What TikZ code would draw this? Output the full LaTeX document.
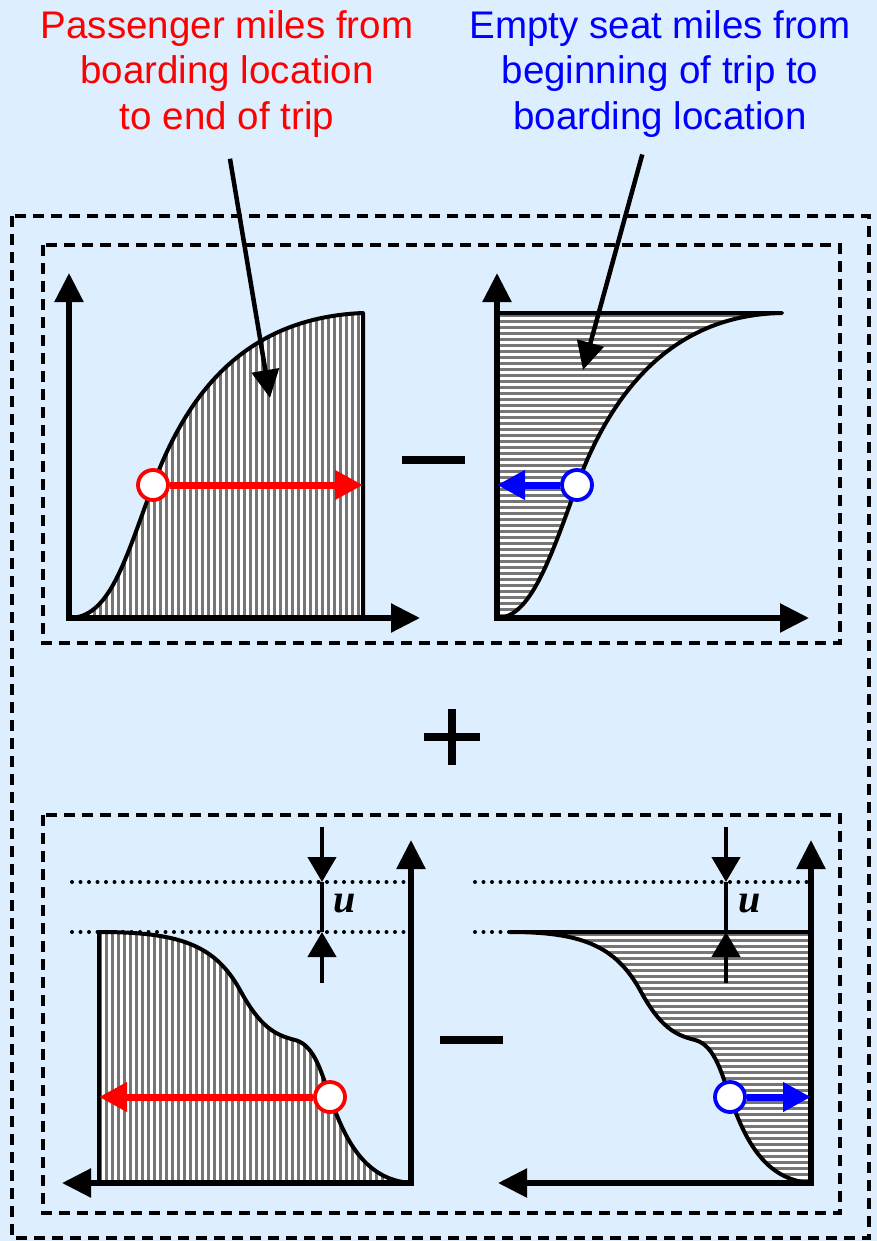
\documentclass[tikz,border=0pt]{standalone}
\usepackage{fontspec}
\setmainfont{Liberation Sans}
\newfontfamily\uvar{Liberation Serif}
\usetikzlibrary{calc,arrows.meta}
\definecolor{pagebg}{RGB}{221,238,255}
\definecolor{stripegray}{RGB}{118,118,118}
\newcommand{\risingL}{(o1) .. controls (110,618) and (125,560) .. (153,485) .. controls (185,400) and (240,318) .. (top1)}
\newcommand{\risingR}{(o2) .. controls (530,618) and (550,560) .. (577,485) .. controls (605,410) and (660,315) .. (end2)}
\newcommand{\fallingL}{(lft3) .. controls (180,932) and (215,945) .. (240,990) .. controls (260,1027) and (275,1035) .. (295,1040) .. controls (315,1045) and (322,1075) .. (330,1097) .. controls (345,1140) and (365,1180) .. (o3)}
\newcommand{\fallingR}{(lft4) .. controls (580,932) and (615,945) .. (640,990) .. controls (660,1027) and (675,1035) .. (695,1040) .. controls (715,1045) and (722,1075) .. (730,1097) .. controls (745,1140) and (765,1180) .. (o4)}
\tikzset{
  lbl/.style={align=center,font=\fontsize{38.5}{45.5}\selectfont},
  axis/.style={{Triangle[length=29pt,width=28pt]}-{Triangle[length=29pt,width=28pt]},line width=5.5pt},
  ptr/.style={-{Triangle[length=28pt,width=27pt]},line width=4.5pt},
  curv/.style={line width=4pt,line join=round}
}

\begin{document}
\begin{tikzpicture}[x=1pt,y=-1pt,
  dbox/.style={dash pattern=on 11pt off 7pt,line width=3.3pt},
  dotl/.style={line width=4pt,dash pattern=on 0pt off 8.5pt,line cap=round},
  vstripe/.style={stripegray,line width=3pt},
  rdot/.style={circle,draw=red,fill=white,line width=3.8pt,minimum size=30pt,inner sep=0pt},
  bdot/.style={rdot,draw=blue},
  rarr/.style={-{Triangle[length=28pt,width=28pt]},line width=7pt,red},
  barr/.style={rarr,blue},
  uarr/.style={-{Triangle[length=25pt,width=28pt]},line width=4.5pt},
  uvar/.style={font=\uvar\bfseries\itshape\fontsize{40}{40}\selectfont},
  sign/.style={line width=8pt}]
  \useasboundingbox (0,0) rectangle (877,1241);
  \fill[pagebg] (0,0) rectangle (877,1241);

  % labels
  \node[lbl,text=red] (pass) at (227,74) {Passenger miles from\\boarding location\\to end of trip};
  \node[lbl,text=blue] (empty) at (660,74) {Empty seat miles from\\beginning of trip to\\boarding location};

  % frames
  \draw[dbox] (12,216) rectangle (869,1238);
  \draw[dbox] (43,245) rectangle (840,643);
  \draw[dbox] (43,815) rectangle (840,1213);

  \coordinate (o1) at (69,618);  \coordinate (y1) at (69,273);  \coordinate (x1) at (420,618);  \coordinate (top1) at (363,313);
  \coordinate (o2) at (497,618); \coordinate (y2) at (497,273); \coordinate (x2) at (809,618);  \coordinate (end2) at (782,313);
  \coordinate (o3) at (411,1183); \coordinate (y3) at (411,840); \coordinate (x3) at (62,1183); \coordinate (lft3) at (99,932);
  \coordinate (o4) at (811,1183); \coordinate (y4) at (811,840); \coordinate (x4) at (498,1183); \coordinate (lft4) at (510,932);

  % hatched areas
  \begin{scope}
    \clip \risingL |- (o1);
    \fill[white] (60,300) rectangle (370,620);
    \foreach \x in {70,76,...,364} \draw[vstripe] (\x,300) -- (\x,620);
  \end{scope}
  \begin{scope}
    \clip \risingR -- (o2 |- end2) -- cycle;
    \fill[white] (490,305) rectangle (790,620);
    \foreach \y in {315,321,...,620} \draw[vstripe] (490,\y) -- (790,\y);
  \end{scope}
  \begin{scope}
    \clip \fallingL -- (lft3 |- o3) -- cycle;
    \fill[white] (95,925) rectangle (415,1190);
    \foreach \x in {100,106,...,412} \draw[vstripe] (\x,925) -- (\x,1190);
  \end{scope}
  \begin{scope}
    \clip \fallingR -- (o4 |- lft4) -- cycle;
    \fill[white] (505,925) rectangle (815,1190);
    \foreach \y in {934,940,...,1186} \draw[vstripe] (505,\y) -- (815,\y);
  \end{scope}

  \draw[curv] \risingL -- (top1 |- o1);
  \draw[curv] \risingR -- (o2 |- end2);
  \draw[curv] (lft3 |- o3) -- \fallingL;
  \draw[curv] \fallingR -- (o4 |- lft4) -- (lft4);

  % levels and offset u
  \draw[dotl] (72,882) -- (411,882);
  \draw[dotl] (72,932) -- (411,932);
  \draw[dotl] (475,882) -- (811,882);
  \draw[dotl] (475,932) -- (510,932);
  \foreach \ux in {322,726} {
    \draw[uarr] (\ux,827) -- (\ux,882);
    \draw[line width=4.5pt] (\ux,882) -- (\ux,932);
    \draw[uarr] (\ux,983) -- (\ux,932);
  }
  \node[uvar] (u1) at (345,904) {u};
  \node[uvar] (u2) at (750,904) {u};

  % axes
  \draw[axis] (y1) -- (o1) -- (x1);
  \draw[axis] (y2) -- (o2) -- (x2);
  \draw[axis] (y3) -- (o3) -- (x3);
  \draw[axis] (y4) -- (o4) -- (x4);

  % boarding points
  \node[rdot] (bp1) at (153,485) {};
  \node[bdot] (be1) at (577,485) {};
  \node[rdot] (bp2) at (330,1097) {};
  \node[bdot] (be2) at (730,1097) {};
  \draw[rarr] (bp1) -- (bp1 -| top1);
  \draw[barr] (be1) -- (be1 -| o2);
  \draw[rarr] (bp2) -- (bp2 -| lft3);
  \draw[barr] (be2) -- (be2 -| o4);

  % signs
  \draw[sign] (402,460) -- (465,460);
  \draw[sign] (440,1040) -- (503,1040);
  \draw[sign] (424,737) -- (480,737) (452,709) -- (452,765);

  % pointers
  \coordinate (pa) at (270,398);
  \coordinate (ea) at (583,370);
  \draw[ptr,shorten <=18pt] (pass.south) -- (pa);
  \draw[ptr,shorten <=14pt] ([xshift=-14pt]empty.south) -- (ea);
\end{tikzpicture}
\end{document}
